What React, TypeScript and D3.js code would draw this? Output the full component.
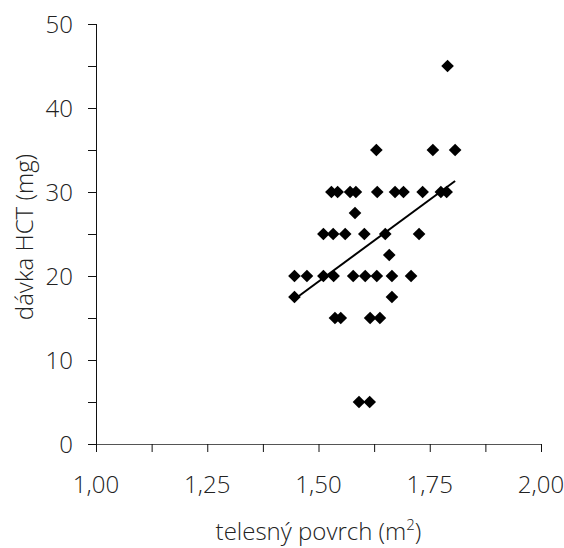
import * as d3 from "d3";
import { useEffect, useRef } from "react";

// body surface area (m2) and HCT dose (mg)
const surface = [
  1.79,
  1.63, 1.757, 1.807,
  1.529, 1.543, 1.571, 1.584, 1.632, 1.672, 1.691, 1.734, 1.775, 1.788,
  1.582,
  1.511, 1.533, 1.56, 1.603, 1.65, 1.726,
  1.659,
  1.446, 1.474, 1.511, 1.534, 1.578, 1.605, 1.631, 1.665, 1.708,
  1.446, 1.665,
  1.537, 1.55, 1.616, 1.638,
  1.591, 1.615,
];
const dose = [
  45,
  35, 35, 35,
  30, 30, 30, 30, 30, 30, 30, 30, 30, 30,
  27.5,
  25, 25, 25, 25, 25, 25,
  22.5,
  20, 20, 20, 20, 20, 20, 20, 20, 20,
  17.5, 17.5,
  15, 15, 15, 15,
  5, 5,
];

const xTicks = [1, 1.125, 1.25, 1.375, 1.5, 1.625, 1.75, 1.875, 2];
const xLabels = [1, 1.25, 1.5, 1.75, 2];
const yTicks = [0, 5, 10, 15, 20, 25, 30, 35, 40, 45, 50];
const yLabels = [0, 10, 20, 30, 40, 50];

const xTitle = "telesný povrch (m";
const yTitle = "dávka HCT (mg)";

const width = 564, height = 548;
const margin = { left: 96, right: 23, top: 24, bottom: 104 };
const font = "'Open Sans', sans-serif";
const textColor = "#222";

export default function App() {
  const ref = useRef<SVGSVGElement>(null);

  useEffect(() => {
    const svg = d3.select(ref.current);
    svg.selectAll("*").remove();

    const x = d3.scaleLinear().domain([1, 2]).range([margin.left, width - margin.right]);
    const y = d3.scaleLinear().domain([0, 50]).range([height - margin.bottom, margin.top]);

    // y axis
    const yAxis = d3.axisLeft(y).tickValues(yTicks).tickSize(8).tickFormat(() => "");
    const gy = svg.append("g").attr("transform", `translate(${margin.left},0)`).call(yAxis);
    gy.select(".domain").attr("stroke", "#111").attr("d", `M0.5,${y(50)}V${y(0)}`);
    gy.selectAll(".tick line").attr("stroke", "#111");

    svg.append("g")
      .selectAll("text")
      .data(yLabels)
      .join("text")
      .attr("x", margin.left - 23)
      .attr("y", (d) => y(d) + 8.5)
      .attr("text-anchor", "end")
      .style("font", `300 24px ${font}`)
      .attr("fill", textColor)
      .text((d) => d);

    // x axis
    const xAxis = d3.axisBottom(x).tickValues(xTicks).tickSize(8).tickSizeOuter(0).tickFormat(() => "");
    const gx = svg.append("g").attr("transform", `translate(0,${y(0)})`).call(xAxis);
    gx.select(".domain").attr("stroke", "#555");
    gx.selectAll(".tick line").attr("stroke", "#111");

    svg.append("g")
      .selectAll("text")
      .data(xLabels)
      .join("text")
      .attr("x", (d) => x(d))
      .attr("y", y(0) + 49)
      .attr("text-anchor", "middle")
      .style("font", `300 24px ${font}`)
      .attr("fill", textColor)
      .text((d) => d3.format(".2f")(d).replace(".", ","));

    // axis titles
    const xt = svg.append("text")
      .attr("x", (margin.left + width - margin.right) / 2)
      .attr("y", height - 8)
      .attr("text-anchor", "middle")
      .style("font", `300 24px ${font}`)
      .attr("fill", textColor);
    xt.append("tspan").text(xTitle);
    xt.append("tspan").attr("dy", -10).style("font-size", "15px").text("2");
    xt.append("tspan").attr("dy", 10).text(")");

    svg.append("text")
      .attr("transform", `translate(33,237) rotate(-90)`)
      .attr("text-anchor", "middle")
      .style("font", `300 24px ${font}`)
      .attr("fill", textColor)
      .text(yTitle);

    // points
    const pts = surface.map((s, i) => ({ s, d: dose[i] }));
    const diamond = d3.symbol(d3.symbolSquare, 80);
    svg.append("g")
      .selectAll("path")
      .data(pts)
      .join("path")
      .attr("d", diamond)
      .attr("transform", (p) => `translate(${x(p.s)},${y(p.d)}) rotate(45)`)
      .attr("fill", "#000");

    // least squares trend line over the data range
    const mx = d3.mean(surface)!, my = d3.mean(dose)!;
    const slope = d3.sum(pts, (p) => (p.s - mx) * (p.d - my)) / d3.sum(pts, (p) => (p.s - mx) ** 2);
    const icpt = my - slope * mx;
    const [x0, x1] = d3.extent(surface) as [number, number];
    const fit = [x0, x1].map((v) => ({ s: v, d: icpt + slope * v }));
    svg.append("path")
      .datum(fit)
      .attr("fill", "none")
      .attr("stroke", "#000")
      .attr("stroke-width", 2)
      .attr("d", d3.line<{ s: number; d: number }>().x((p) => x(p.s)).y((p) => y(p.d)));
  }, []);

  return (
    <svg
      ref={ref}
      width={width}
      height={height}
      style={{ position: "absolute", left: 0, top: 0, background: "#fff" }}
    />
  );
}
